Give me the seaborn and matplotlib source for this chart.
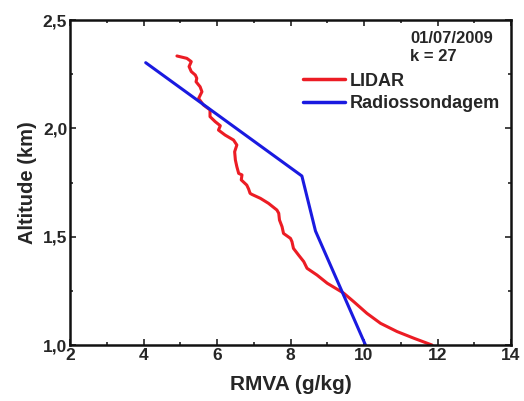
import matplotlib
matplotlib.use("Agg")
import matplotlib.pyplot as plt
import seaborn as sns
import pandas as pd
from matplotlib.ticker import MultipleLocator, FuncFormatter
from matplotlib.lines import Line2D

# Data
lidar_rmva = [4.91, 5.18, 5.30, 5.24, 5.30, 5.41, 5.45, 5.43, 5.54, 5.59, 5.50, 5.63, 5.81, 5.81,
              5.95, 6.09, 6.04, 6.22, 6.45, 6.54, 6.48, 6.50, 6.54, 6.59, 6.68, 6.66, 6.81,
              6.86, 6.90, 6.95, 7.18, 7.40, 7.63, 7.68, 7.70, 7.77, 7.81, 8.0, 8.04, 8.08,
              8.22, 8.36, 8.45, 8.72, 9.0, 9.45, 9.72, 10.08, 10.45, 10.9, 11.36, 11.77, 11.85]
lidar_alt = [2.334, 2.323, 2.308, 2.285, 2.262, 2.246, 2.231, 2.215, 2.192, 2.169, 2.138, 2.108, 2.085, 2.054,
             2.031, 2.012, 1.992, 1.969, 1.946, 1.923, 1.892, 1.854, 1.823, 1.792, 1.785, 1.762, 1.738,
             1.720, 1.70, 1.695, 1.677, 1.654, 1.623, 1.608, 1.577, 1.546, 1.515, 1.492, 1.477, 1.446,
             1.415, 1.385, 1.354, 1.323, 1.285, 1.239, 1.2, 1.146, 1.1, 1.062, 1.031, 1.005, 1.0]
radio_rmva = [4.06, 8.31, 8.68, 10.04]
radio_alt = [2.303, 1.78, 1.526, 1.0]

series_names = ["LIDAR", "Radiossondagem"]
series_colors = ["#ec1c24", "#1a1ae0"]
date_text = "01/07/2009"
k_text = "k = 27"
xlabel = "RMVA (g/kg)"
ylabel = "Altitude (km)"

df = pd.concat([
    pd.DataFrame({"x": lidar_rmva, "y": lidar_alt, "s": series_names[0]}),
    pd.DataFrame({"x": radio_rmva, "y": radio_alt, "s": series_names[1]}),
])

sns.set_style("ticks")
plt.rcParams["font.family"] = ["Liberation Sans", "DejaVu Sans"]
plt.rcParams["font.weight"] = "bold"

fig = plt.figure(figsize=(5.24, 4.01), dpi=100)
ax = fig.add_axes([70/524, 1-345/401, (511-70)/524, (345-20)/401])

sns.lineplot(data=df, x="x", y="y", hue="s", palette=dict(zip(series_names, series_colors)),
             sort=False, estimator=None, lw=2.2, ax=ax, legend=False)

ax.set_xlim(2, 14)
ax.set_ylim(1.0, 2.5)
ax.xaxis.set_major_locator(MultipleLocator(2))
ax.xaxis.set_minor_locator(MultipleLocator(1))
ax.yaxis.set_major_locator(MultipleLocator(0.5))
ax.yaxis.set_minor_locator(MultipleLocator(0.25))
ax.xaxis.set_major_formatter(FuncFormatter(lambda v, p: f"{v:.0f}"))
ax.yaxis.set_major_formatter(FuncFormatter(lambda v, p: f"{v:.1f}".replace(".", ",")))
ax.tick_params(which="both", direction="in", top=True, right=True, width=1.2, color="#222222")
ax.tick_params(which="major", length=4, labelsize=12.5, pad=2)
ax.tick_params(which="minor", length=2.5)
for lab in ax.get_xticklabels() + ax.get_yticklabels():
    lab.set_fontweight("bold")
for sp in ax.spines.values():
    sp.set_linewidth(1.8)
    sp.set_color("#111111")

ax.set_xlabel(xlabel, fontsize=15, fontweight="bold", labelpad=9)
ax.set_ylabel(ylabel, fontsize=14.5, fontweight="bold", labelpad=4)

ax.text(0.96, 0.943, date_text, transform=ax.transAxes, ha="right", va="center",
        fontsize=12, fontweight="bold")
ax.text(340/441, 0.887, k_text, transform=ax.transAxes, ha="left", va="center",
        fontsize=12, fontweight="bold")

handles = [Line2D([], [], color=c, lw=2.5) for c in series_colors]
leg = ax.legend(handles, series_names, loc="upper left", bbox_to_anchor=(0.528, 0.838),
                frameon=False, fontsize=13, handlelength=2.35, handletextpad=0.25,
                labelspacing=0.3, borderaxespad=0, borderpad=0)
for t in leg.get_texts():
    t.set_fontweight("bold")

fig.savefig("out.png", dpi=100)
